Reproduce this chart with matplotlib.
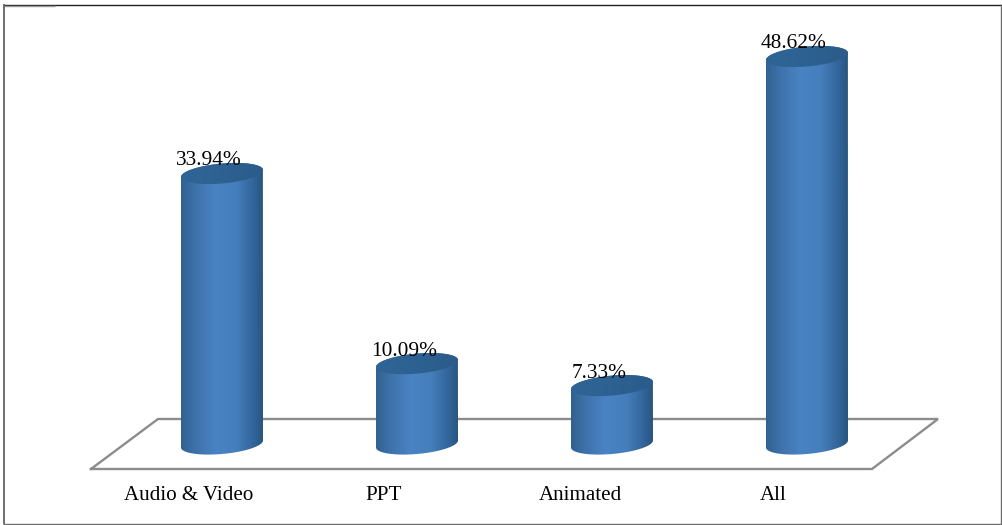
import numpy as np
import matplotlib
matplotlib.use("Agg")
import matplotlib.pyplot as plt
from matplotlib.patches import PathPatch
from matplotlib.path import Path
from matplotlib.colors import LinearSegmentedColormap

categories = ["Audio & Video", "PPT", "Animated", "All"]
values = [33.94, 10.09, 7.33, 48.62]
labels = ["33.94%", "10.09%", "7.33%", "48.62%"]

W, H = 1003, 525
fig = plt.figure(figsize=(W / 100, H / 100), dpi=100)
ax = fig.add_axes([0, 0, 1, 1])
PX = 195.0          # pixels per category
PY = 7.97           # pixels per percent
X0, Y0 = 222.0, 444.0
XLIM = (-X0 / PX, (W - X0) / PX)
YLIM = (-(H - Y0) / PY, Y0 / PY)
ax.axis("off")

def fx(p): return (p - X0) / PX
def fy(p): return (Y0 - p) / PY

# frame
t = ax.transAxes
def frame(x0, y0, x1, y1, c, lw):
    ax.plot([x0 / W, x1 / W], [1 - y0 / H, 1 - y1 / H], transform=t, color=c, lw=lw,
            solid_capstyle="butt", zorder=1)
frame(3, 4.5, 1001, 4.5, "#222222", 1.0)
frame(4, 5.5, 55, 5.5, "#999999", 1.0)
frame(4, 4, 4, 524, "#6e6e6e", 1.4)
frame(1001.5, 4, 1001.5, 524, "#6e6e6e", 1.0)
frame(3, 523.5, 1002, 523.5, "#6e6e6e", 1.0)

# floor
fl = np.array([[91, 469], [872, 469], [938, 419], [158, 419], [91, 469]], float)
ax.plot(fx(fl[:, 0]), fy(fl[:, 1]), color="#8c8c8c", lw=1.7, zorder=2, solid_joinstyle="miter")

body_cmap = LinearSegmentedColormap.from_list("b", [
    (0, "#30618f"), (0.15, "#3c70a8"), (0.42, "#4a83c4"), (0.68, "#457ebb"),
    (0.88, "#33669b"), (1, "#285680")])
top_cmap = LinearSegmentedColormap.from_list("t", ["#2f6596", "#2d6192", "#2b5c8a"])
grad = np.linspace(0, 1, 128).reshape(1, -1)

hw = 41 / PX
hh = 10.0 / PY     # ellipse half-height
tilt = 3.5 / PY    # right side of each ellipse sits higher than the left
th = np.linspace(0, 2 * np.pi, 181)

def ring(cx, cy, tt):
    return cx + hw * np.cos(tt), cy + tilt * np.cos(tt) + hh * np.sin(tt)

for i, v in enumerate(values):
    # side of the cylinder: front half of the base ellipse, back half of the top ellipse
    bx, by = ring(i, 0, np.linspace(np.pi, 2 * np.pi, 90))
    tx, ty = ring(i, v, np.linspace(0, np.pi, 90))
    verts = np.column_stack([np.r_[bx, tx], np.r_[by, ty]])
    clip = PathPatch(Path(verts, closed=False), transform=ax.transData, fc="none", ec="none")
    ax.add_patch(clip)
    im = ax.imshow(grad, cmap=body_cmap, aspect="auto", zorder=3,
                   extent=[i - hw, i + hw, -3, v + 3], interpolation="bilinear")
    im.set_clip_path(clip)
    ex, ey = ring(i, v, th)
    top = PathPatch(Path(np.column_stack([ex, ey])), transform=ax.transData, fc="none", ec="none")
    ax.add_patch(top)
    im2 = ax.imshow(grad, cmap=top_cmap, aspect="auto", zorder=4,
                    extent=[i - hw, i + hw, v - 3, v + 3], interpolation="bilinear")
    im2.set_clip_path(top)
    ax.text(i - 13 / PX, v + 12.5 / PY, labels[i],
            family="Liberation Serif", fontsize=15.4, ha="center", va="center",
            color="black", zorder=6)

ax.set_xlim(*XLIM)
ax.set_ylim(*YLIM)

for i, c in enumerate(categories):
    xoff = [-33, -33, -32, -34][i] / PX
    ax.text(i + xoff, fy(495), c, family="Liberation Serif", fontsize=15.1,
            ha="center", va="center", color="black", zorder=6)

fig.savefig("out.png", dpi=100)
